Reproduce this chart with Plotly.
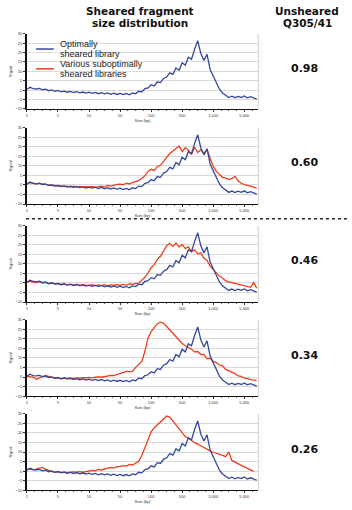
import numpy as np
import plotly.graph_objects as go

# ---------------- data ----------------
x_tick_labels = ["1", "5", "10", "50", "100", "500", "1,000", "5,000"]
x_tick_pos = [0, 1, 2, 3, 4, 5, 6, 7]
y_tick_vals = [-10, -5, 0, 5, 10, 15, 20, 25, 30]
q_values = ["0.98", "0.60", "0.46", "0.34", "0.26"]

# sampling positions along the (ladder-calibrated) size axis
X = np.round(np.linspace(0, 7.4, 75), 2)

blue_optimal = [
    0.5, 1.5, 0.8, 0.6, 0.9, 0.2, 0.5, -0.3, 0.1, -0.6,
    -0.2, -0.9, -0.5, -1.1, -0.7, -1.3, -0.8, -1.4, -1.0, -1.6,
    -1.1, -1.7, -1.2, -1.9, -1.3, -2.0, -1.5, -2.2, -1.6, -2.3,
    -1.7, -2.4, -1.8, -2.5, -1.5, -1.9, -0.6, -0.9, 0.8, 1.2,
    2.8, 2.2, 4.4, 4.0, 6.2, 7.0, 9.2, 8.4, 11.8, 10.6,
    14.5, 13.2, 17.5, 16.4, 21.8, 26.3, 19.5, 15.8, 19.0, 11.0,
    7.5, 3.5, 0.5, -1.5, -2.8, -3.9, -3.2, -4.0, -3.3, -3.9,
    -3.1, -4.1, -3.5, -4.2, -4.8,
]

red_060 = [
    0.6, 1.2, 1.0, 0.4, 0.8, 0.4, 0.2, 0.0, -0.3, -0.2,
    -0.6, -0.5, -0.8, -0.6, -1.0, -0.7, -1.1, -0.8, -1.2, -0.9,
    -1.2, -0.8, -1.3, -0.9, -0.7, -1.1, -0.3, -0.6, -0.1, 0.3,
    0.4, 0.1, 0.9, 0.5, 1.2, 1.8, 2.3, 3.5, 4.8, 7.1,
    8.2, 7.6, 9.7, 10.3, 12.3, 14.2, 16.5, 17.8, 19.1, 20.4,
    17.5, 19.6, 18.2, 16.0, 19.8, 17.0, 18.4, 16.4, 18.6, 13.9,
    9.7, 7.1, 5.5, 4.0, 3.6, 3.0, 3.3, 4.5, 2.2, 0.9,
    0.2, -0.1, -0.6, -1.2, -1.7,
]

red_046 = [
    0.3, 0.9, 0.5, 0.2, 0.7, 0.0, 0.3, -0.4, -0.1, -0.5,
    -0.3, -0.8, -0.4, -1.0, -0.6, -1.1, -0.7, -1.3, -0.9, -1.0,
    -1.4, -0.9, -1.5, -1.0, -1.4, -0.9, -1.5, -1.0, -1.3, -0.8,
    -1.2, -0.7, -1.1, -0.5, -0.8, -0.2, -0.1, 1.5, 3.0, 5.2,
    8.0, 9.6, 12.4, 14.0, 17.2, 19.6, 20.8, 19.2, 21.0, 18.8,
    20.2, 18.0, 19.0, 16.6, 17.4, 15.2, 15.8, 13.0, 11.8, 8.8,
    7.0, 5.2, 3.6, 2.5, 1.2, 0.6, 0.2, -0.3, -0.8, -1.2,
    -1.6, -2.0, -2.3, 0.2, -2.7,
]

red_034 = [
    0.4, 0.2, 0.0, -1.2, -0.6, 0.2, 0.9, 0.3, -0.3, -0.6,
    -0.4, -0.8, -0.5, -0.7, -0.4, -0.8, -0.5, -0.6, -0.3, -0.5,
    -0.2, -0.4, -0.1, 0.1, -0.1, 0.3, 0.6, 0.9, 0.8, 1.4,
    1.9, 2.2, 3.0, 2.8, 3.0, 5.1, 6.5, 8.2, 13.5, 20.5,
    23.9, 26.2, 28.0, 28.8, 28.2, 26.5, 24.8, 22.6, 21.0, 19.4,
    17.6, 16.4, 15.6, 14.6, 13.2, 13.4, 11.8, 11.9, 9.6, 9.8,
    8.2, 7.6, 6.2, 5.9, 4.0, 3.3, 2.2, 1.8, 0.6, 0.3,
    -0.6, -0.8, -1.4, -1.5, -1.7,
]

red_026 = [
    0.9, 1.1, 0.7, 1.2, 1.6, 1.9, 1.0, 0.2, -0.3, -0.6,
    -0.4, -0.7, -0.5, -0.8, -0.6, -0.4, -0.6, -0.3, -0.6, -0.2,
    0.1, 0.4, 0.2, 0.9, 0.6, 1.0, 1.4, 1.9, 1.6, 2.3,
    2.5, 2.9, 2.6, 3.5, 3.2, 4.0, 5.1, 8.2, 12.5, 16.0,
    20.6, 22.8, 24.3, 26.0, 27.2, 28.9, 28.3, 26.2, 24.6, 22.0,
    20.0, 18.1, 17.2, 15.8, 14.9, 14.2, 13.2, 12.4, 11.5, 10.6,
    9.9, 9.2, 8.6, 8.2, 7.6, 10.0, 5.6, 4.6, 3.8, 3.0,
    2.2, 1.4, 0.5, -0.1, None,
]

red_series = [None, red_060, red_046, red_034, red_026]

# ---------------- styling ----------------
W, H = 352, 510
BLUE = "#34489a"
RED = "#ea3f1a"
GRID = "#dadada"
tops = [31, 126, 225, 320, 415]
bottoms = [107, 203, 302, 397, 492]
LEFT, RIGHT = 26, 258


def px(x):
    return x / W


def py(y):
    return 1 - y / H


fig = go.Figure()
layout = {}
shapes = []
annotations = []

for k in range(5):
    sfx = "" if k == 0 else str(k + 1)
    xa, ya = "x" + sfx, "y" + sfx
    if red_series[k] is not None:
        fig.add_trace(go.Scatter(
            x=X, y=red_series[k], mode="lines", xaxis=xa, yaxis=ya,
            line=dict(color=RED, width=1.3), name="Various suboptimally sheared libraries",
            showlegend=False, hoverinfo="skip"))
    fig.add_trace(go.Scatter(
        x=X, y=blue_optimal, mode="lines", xaxis=xa, yaxis=ya,
        line=dict(color=BLUE, width=1.3), name="Optimally sheared library",
        showlegend=False, hoverinfo="skip"))

    layout["xaxis" + sfx] = dict(
        domain=[px(LEFT), px(RIGHT)], range=[0, 7.45], anchor=ya,
        tickvals=x_tick_pos, ticktext=x_tick_labels,
        tickfont=dict(size=4, color="#333"), ticks="outside", ticklen=2,
        tickcolor="#333", showline=True, linecolor="#111", linewidth=1,
        showgrid=False, zeroline=False,
        minor=dict(dtick=0.25, ticklen=1, ticks="outside", tickcolor="#666", showgrid=False),
        title=dict(text="Size (bp)", font=dict(size=4, color="#333"), standoff=1),
    )
    layout["yaxis" + sfx] = dict(
        domain=[py(bottoms[k]), py(tops[k])], range=[-10, 30], anchor=xa,
        tickvals=y_tick_vals, tickfont=dict(size=4, color="#333"),
        ticks="outside", ticklen=2, tickcolor="#333",
        showline=True, linecolor="#111", linewidth=1.6,
        showgrid=True, gridcolor=GRID, gridwidth=1, zeroline=False,
        title=dict(text="Signal", font=dict(size=4, color="#333"), standoff=3),
    )
    # faint right frame
    shapes.append(dict(type="line", xref=xa + " domain", yref=ya + " domain",
                       x0=1, x1=1, y0=0, y1=1, line=dict(color="#cfcfcf", width=1)))
    # unsheared Q305/41 value
    annotations.append(dict(
        x=px(304), y=py((tops[k] + bottoms[k]) / 2 - 3), xref="paper", yref="paper",
        text="<b>" + q_values[k] + "</b>", showarrow=False,
        font=dict(family="DejaVu Sans", size=11, color="#111"),
        xanchor="center", yanchor="middle"))

# dotted separator between panels 2 and 3
shapes.append(dict(type="line", xref="paper", yref="paper",
                   x0=px(25), x1=px(347), y0=py(218), y1=py(218),
                   line=dict(color="#222", width=1.5, dash="dot")))

# legend (inside first panel)
shapes.append(dict(type="rect", xref="paper", yref="paper", layer="between",
                   x0=px(30), x1=px(160), y0=py(77), y1=py(35),
                   fillcolor="white", line=dict(width=0)))
shapes.append(dict(type="line", xref="paper", yref="paper",
                   x0=px(35), x1=px(53), y0=py(46.5), y1=py(46.5),
                   line=dict(color=BLUE, width=1.5)))
shapes.append(dict(type="line", xref="paper", yref="paper",
                   x0=px(35), x1=px(53), y0=py(66.5), y1=py(66.5),
                   line=dict(color=RED, width=1.5)))
for txt, yy in [("Optimally", 41), ("sheared library", 51.5),
                ("Various suboptimally", 61.5), ("sheared libraries", 72)]:
    annotations.append(dict(x=px(57), y=py(yy), xref="paper", yref="paper",
                            text=txt, showarrow=False, xanchor="left", yanchor="middle",
                            font=dict(family="Liberation Sans", size=9, color="#222")))

# column headers
for txt, xx, yy in [("Sheared fragment", 139, 8), ("size distribution", 139, 20),
                    ("Unsheared", 307, 8), ("Q305/41", 307, 20)]:
    annotations.append(dict(x=px(xx), y=py(yy), xref="paper", yref="paper",
                            text="<b>" + txt + "</b>", showarrow=False,
                            xanchor="center", yanchor="middle",
                            font=dict(family="DejaVu Sans", size=10.5, color="#111")))

fig.update_layout(
    width=W, height=H, margin=dict(l=0, r=0, t=0, b=0),
    paper_bgcolor="white", plot_bgcolor="white",
    showlegend=False, shapes=shapes, annotations=annotations,
    font=dict(family="Liberation Sans"),
    **layout,
)

fig.write_html("out.html")
